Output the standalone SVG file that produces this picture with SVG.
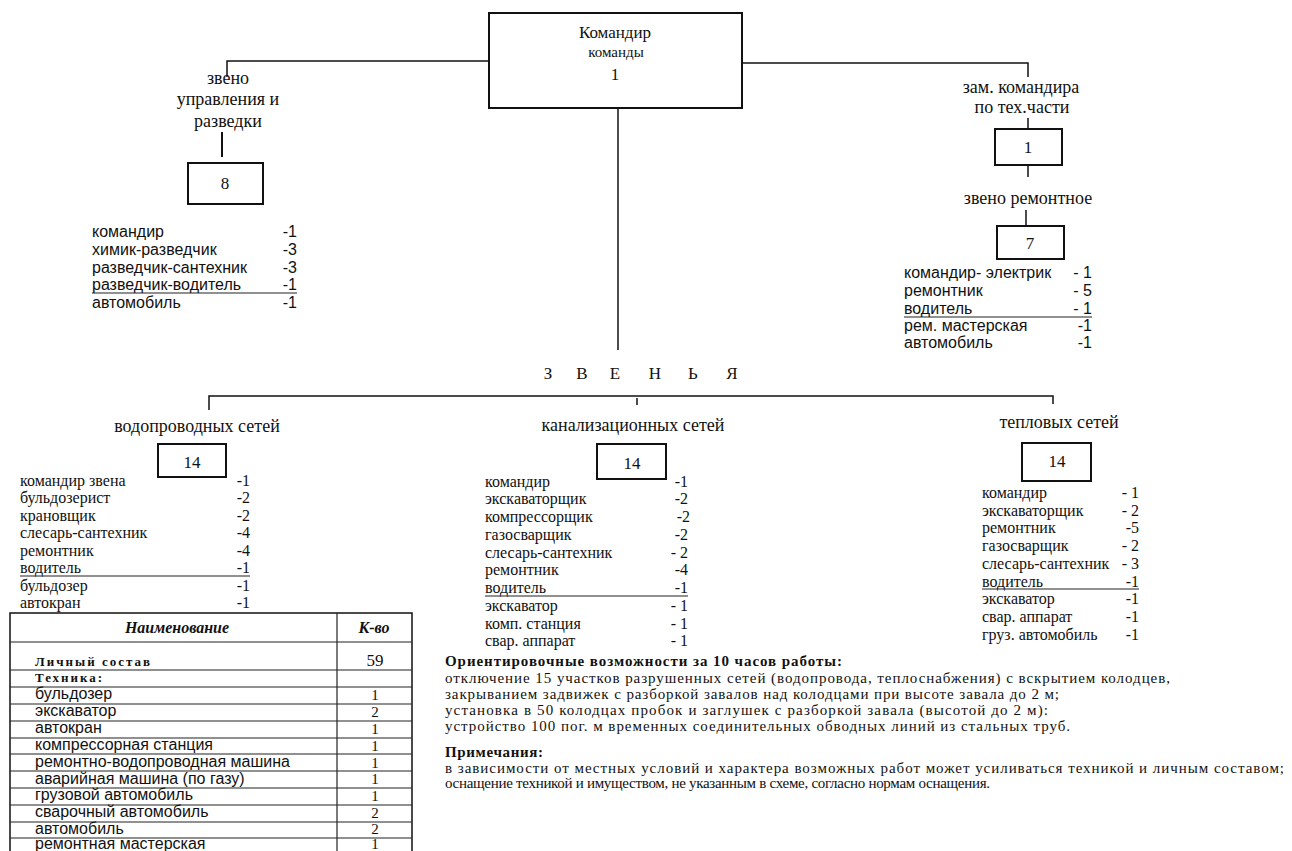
<svg xmlns="http://www.w3.org/2000/svg" width="1292" height="851" viewBox="0 0 1292 851">
<style>
  .bg{fill:#fff}
  .box{fill:none;stroke:#111;stroke-width:2}
  .ln{fill:none;stroke:#111;stroke-width:1.5}
  .thin{fill:none;stroke:#222;stroke-width:1.2}
  .lbl{font-family:"Liberation Serif","Times New Roman",serif;font-size:18px;fill:#111;text-anchor:middle}
  .num{font-family:"Liberation Serif","Times New Roman",serif;font-size:17px;fill:#111;text-anchor:middle}
  .tnum{font-family:"Liberation Serif","Times New Roman",serif;font-size:15px;fill:#111;text-anchor:middle}
  .sans{font-family:"Liberation Sans",Arial,sans-serif;font-size:16px;fill:#111}
  .ser{font-family:"Liberation Serif","Times New Roman",serif;font-size:16px;fill:#111}
  .end{text-anchor:end}
  .bi{font-family:"Liberation Serif","Times New Roman",serif;font-size:16px;font-weight:bold;font-style:italic;fill:#111;text-anchor:middle}
  .bold{font-family:"Liberation Serif","Times New Roman",serif;font-size:15px;font-weight:bold;fill:#111}
  .par{font-family:"Liberation Serif","Times New Roman",serif;font-size:15px;fill:#111}
</style>
<rect class="bg" x="0" y="0" width="1292" height="851"/>

<g id="connectors">
  <path class="ln" d="M489 61 H227 V77"/>
  <path class="ln" d="M742 63 H1028 V77"/>
  <path class="ln" d="M618 108 V350"/>
  <path class="ln" d="M222 132 V157" style="stroke-width:2"/>
  <path class="ln" d="M1028 118 V129"/>
  <path class="ln" d="M1028 165 V177"/>
  <path class="ln" d="M1026 210 V226"/>
  <path class="ln" d="M209 410 V396 H1053 V404"/>
  <path class="ln" d="M637 398 V405"/>
</g>

<g id="commander">
  <rect class="box" x="489" y="13" width="253" height="95"/>
  <text class="lbl" x="615" y="38" style="font-size:17px">Командир</text>
  <text class="lbl" x="616" y="57" style="font-size:15px">команды</text>
  <text class="num" x="615" y="80">1</text>
</g>

<g id="zveno-upravleniya">
  <text class="lbl" x="228" y="84">звено</text>
  <text class="lbl" x="228" y="105">управления и</text>
  <text class="lbl" x="228" y="127">разведки</text>
  <rect class="box" x="188" y="163" width="75" height="41"/>
  <text class="num" x="225" y="189">8</text>
  <g class="sans">
    <text x="92" y="237">командир</text>
    <text x="92" y="255">химик-разведчик</text>
    <text x="92" y="273">разведчик-сантехник</text>
    <text x="92" y="290">разведчик-водитель</text>
    <text x="92" y="308">автомобиль</text>
    <text class="end" x="297" y="237">-1</text>
    <text class="end" x="297" y="255">-3</text>
    <text class="end" x="297" y="273">-3</text>
    <text class="end" x="297" y="290">-1</text>
    <text class="end" x="297" y="308">-1</text>
  </g>
  <line class="thin" x1="92" y1="293" x2="297" y2="293"/>
</g>

<g id="zam-komandira">
  <text class="lbl" x="1021" y="93">зам. командира</text>
  <text class="lbl" x="1022" y="113">по тех.части</text>
  <rect class="box" x="995" y="129" width="67" height="36"/>
  <text class="num" x="1028" y="153">1</text>
</g>

<g id="zveno-remontnoe">
  <text class="lbl" x="1028" y="204">звено ремонтное</text>
  <rect class="box" x="997" y="226" width="67" height="33"/>
  <text class="num" x="1030" y="249">7</text>
  <g class="sans">
    <text x="904" y="278">командир- электрик</text>
    <text x="904" y="296">ремонтник</text>
    <text x="904" y="314">водитель</text>
    <text x="904" y="331">рем. мастерская</text>
    <text x="904" y="348">автомобиль</text>
    <text class="end" x="1092" y="278">- 1</text>
    <text class="end" x="1092" y="296">- 5</text>
    <text class="end" x="1092" y="314">- 1</text>
    <text class="end" x="1092" y="331">-1</text>
    <text class="end" x="1092" y="348">-1</text>
  </g>
  <line class="thin" x1="904" y1="317" x2="1092" y2="317"/>
</g>

<g id="zvenya-title">
  <g class="num">
    <text x="548" y="379">З</text>
    <text x="582" y="379">В</text>
    <text x="615" y="379">Е</text>
    <text x="655" y="379">Н</text>
    <text x="693" y="379">Ь</text>
    <text x="732" y="379">Я</text>
  </g>
</g>

<g id="vodoprovod">
  <text class="lbl" x="197" y="432">водопроводных сетей</text>
  <rect class="box" x="158" y="444" width="68" height="33"/>
  <text class="num" x="192" y="468">14</text>
  <g class="ser">
    <text x="20" y="486">командир звена</text>
    <text x="20" y="503">бульдозерист</text>
    <text x="20" y="521">крановщик</text>
    <text x="20" y="538">слесарь-сантехник</text>
    <text x="20" y="556">ремонтник</text>
    <text x="20" y="573">водитель</text>
    <text x="20" y="591">бульдозер</text>
    <text x="20" y="608">автокран</text>
    <text class="end" x="250" y="486">-1</text>
    <text class="end" x="250" y="503">-2</text>
    <text class="end" x="250" y="521">-2</text>
    <text class="end" x="250" y="538">-4</text>
    <text class="end" x="250" y="556">-4</text>
    <text class="end" x="250" y="573">-1</text>
    <text class="end" x="250" y="591">-1</text>
    <text class="end" x="250" y="608">-1</text>
  </g>
  <line class="thin" x1="20" y1="576" x2="250" y2="576"/>
</g>

<g id="kanalizatsiya">
  <text class="lbl" x="633" y="431">канализационных сетей</text>
  <rect class="box" x="597" y="444" width="69" height="35"/>
  <text class="num" x="632" y="469">14</text>
  <g class="ser">
    <text x="485" y="487">командир</text>
    <text x="485" y="504">экскаваторщик</text>
    <text x="485" y="522">компрессорщик</text>
    <text x="485" y="540">газосварщик</text>
    <text x="485" y="558">слесарь-сантехник</text>
    <text x="485" y="575">ремонтник</text>
    <text x="485" y="593">водитель</text>
    <text x="485" y="611">экскаватор</text>
    <text x="485" y="629">комп. станция</text>
    <text x="485" y="646">свар. аппарат</text>
    <text class="end" x="688" y="487">-1</text>
    <text class="end" x="688" y="504">-2</text>
    <text class="end" x="690" y="522">-2</text>
    <text class="end" x="688" y="540">-2</text>
    <text class="end" x="688" y="558">- 2</text>
    <text class="end" x="688" y="575">-4</text>
    <text class="end" x="688" y="593">-1</text>
    <text class="end" x="688" y="611">- 1</text>
    <text class="end" x="688" y="629">- 1</text>
    <text class="end" x="688" y="646">- 1</text>
  </g>
  <line class="thin" x1="485" y1="596" x2="688" y2="596"/>
</g>

<g id="teplovye">
  <text class="lbl" x="1059" y="428">тепловых сетей</text>
  <rect class="box" x="1022" y="443" width="69" height="38"/>
  <text class="num" x="1057" y="467">14</text>
  <g class="ser">
    <text x="982" y="498">командир</text>
    <text x="982" y="516">экскаваторщик</text>
    <text x="982" y="533">ремонтник</text>
    <text x="982" y="551">газосварщик</text>
    <text x="982" y="569">слесарь-сантехник</text>
    <text x="982" y="587">водитель</text>
    <text x="982" y="604">экскаватор</text>
    <text x="982" y="622">свар. аппарат</text>
    <text x="982" y="640">груз. автомобиль</text>
    <text class="end" x="1139" y="498">- 1</text>
    <text class="end" x="1139" y="516">- 2</text>
    <text class="end" x="1139" y="533">-5</text>
    <text class="end" x="1139" y="551">- 2</text>
    <text class="end" x="1139" y="569">- 3</text>
    <text class="end" x="1139" y="587">-1</text>
    <text class="end" x="1139" y="604">-1</text>
    <text class="end" x="1139" y="622">-1</text>
    <text class="end" x="1139" y="640">-1</text>
  </g>
  <line class="thin" x1="982" y1="589" x2="1139" y2="589"/>
</g>

<g id="table">
  <rect class="box" x="10" y="613" width="402" height="250" style="stroke-width:1.5"/>
  <line class="thin" x1="337" y1="613" x2="337" y2="851"/>
  <g class="thin">
    <line x1="10" y1="642" x2="412" y2="642"/>
    <line x1="10" y1="670" x2="412" y2="670"/>
    <line x1="10" y1="687" x2="412" y2="687"/>
    <line x1="10" y1="704" x2="412" y2="704"/>
    <line x1="10" y1="721" x2="412" y2="721"/>
    <line x1="10" y1="738" x2="412" y2="738"/>
    <line x1="10" y1="754" x2="412" y2="754"/>
    <line x1="10" y1="771" x2="412" y2="771"/>
    <line x1="10" y1="788" x2="412" y2="788"/>
    <line x1="10" y1="805" x2="412" y2="805"/>
    <line x1="10" y1="822" x2="412" y2="822"/>
    <line x1="10" y1="838" x2="412" y2="838"/>
  </g>
  <text class="bi" x="177" y="633">Наименование</text>
  <text class="bi" x="374" y="633">К-во</text>
  <text class="bold" x="35" y="666" textLength="115" style="font-size:13px">Личный состав</text>
  <text class="bold" x="35" y="682" textLength="67" style="font-size:13px">Техника:</text>
  <g class="sans">
    <text x="35" y="699">бульдозер</text>
    <text x="35" y="716">экскаватор</text>
    <text x="35" y="733">автокран</text>
    <text x="35" y="750">компрессорная станция</text>
    <text x="35" y="767">ремонтно-водопроводная машина</text>
    <text x="35" y="784">аварийная машина (по газу)</text>
    <text x="35" y="800">грузовой автомобиль</text>
    <text x="35" y="817">сварочный автомобиль</text>
    <text x="35" y="834">автомобиль</text>
    <text x="35" y="849">ремонтная мастерская</text>
  </g>
  <g class="tnum">
    <text x="375" y="666" style="font-size:17px">59</text>
    <text x="375" y="700">1</text>
    <text x="375" y="717">2</text>
    <text x="375" y="734">1</text>
    <text x="375" y="751">1</text>
    <text x="375" y="768">1</text>
    <text x="375" y="784">1</text>
    <text x="375" y="801">1</text>
    <text x="375" y="818">2</text>
    <text x="375" y="834">2</text>
    <text x="375" y="849">1</text>
  </g>
</g>

<g id="notes">
  <text class="bold" x="445" y="666" textLength="397">Ориентировочные возможности за 10 часов работы:</text>
  <text class="par" x="445" y="683" textLength="725">отключение 15 участков разрушенных сетей (водопровода, теплоснабжения) с вскрытием колодцев,</text>
  <text class="par" x="445" y="699" textLength="614">закрыванием задвижек с разборкой завалов над колодцами при высоте завала до 2 м;</text>
  <text class="par" x="445" y="715" textLength="603">установка в 50 колодцах пробок и заглушек с разборкой завала (высотой до 2 м):</text>
  <text class="par" x="445" y="731" textLength="625">устройство 100 пог. м временных соединительных обводных линий  из стальных труб.</text>
  <text class="bold" x="445" y="757" textLength="98">Примечания:</text>
  <text class="par" x="445" y="773" textLength="839">в зависимости от местных условий и характера возможных работ может усиливаться техникой и личным составом;</text>
  <text class="par" x="445" y="788" textLength="545">оснащение техникой и имуществом, не указанным в схеме, согласно нормам оснащения.</text>
</g>
</svg>
